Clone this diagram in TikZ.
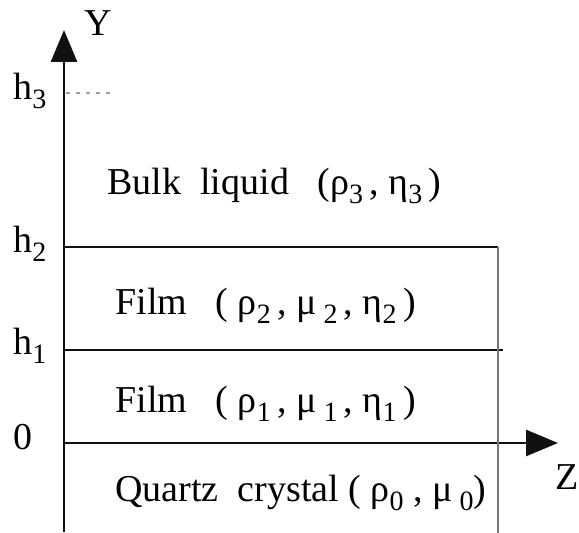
\documentclass[tikz,border=0pt]{standalone}
\usepackage{fontspec}
\setmainfont{Liberation Serif}
\usetikzlibrary{positioning,arrows.meta}
\definecolor{cK}{HTML}{111111}
\definecolor{cG}{HTML}{777777}
\newcommand\lsub[1]{\raisebox{-0.5ex}{\fontsize{14}{14}\selectfont#1}}

\begin{document}
\begin{tikzpicture}[x=0.5pt,y=-0.5pt,font=\fontsize{19}{22}\selectfont,
  axis/.style={line width=1.4pt,cK,-{Triangle[length=16pt,width=13pt]}},
  layer/.style={line width=1pt,cK},
  lbl/.style={anchor=base west,inner sep=0pt}]
\useasboundingbox (0,0) rectangle (579,533);
% --- axes ---
\coordinate (O)    at (64,443);
\coordinate (ybot) at (64,532);
\coordinate (ytip) at (64,30);
\coordinate (ztip) at (558,443);
\draw[axis] (ybot) -- (ytip);
\draw[axis] (O) -- (ztip);
\node[lbl] (ylab) at (84,36)  {Y};
\node[lbl] (zlab) at (555,490) {Z};
% --- interfaces ---
\coordinate (h2a) at (64,247);  \coordinate (h2b) at (498,247);
\coordinate (h1a) at (64,350);  \coordinate (h1b) at (503,350);
\coordinate (rbot) at (498,533);
\draw[layer] (h2a) -- (h2b);
\draw[layer] (h1a) -- (h1b);
\draw[line width=.6pt,cG] (h2b) -- (rbot);
\coordinate (h3a) at (66,93);  \coordinate (h3b) at (115,93);
\draw[cG!70,line width=.6pt,dash pattern=on 2pt off 3pt] (h3a) -- (h3b);
% --- heights ---
\node[lbl] (h3) at (13,100) {h\lsub{3}};
\node[lbl] (h2) at (13,253) {h\lsub{2}};
\node[lbl] (h1) at (13,355) {h\lsub{1}};
\node[lbl] (h0) at (13,450) {0};
% --- layers ---
\node[lbl] (bulk) at (107,195) {Bulk\ \ liquid\ \ \ (ρ\lsub{3}\,, η\lsub{3}\,)};
\node[lbl] (film2) at (115,315) {Film\ \ \ (\ ρ\lsub{2}\,, μ\lsub{\ 2}\,, η\lsub{2}\,)};
\node[lbl] (film1) at (115,413) {Film\ \ \ (\ ρ\lsub{1}\,, μ\lsub{\ 1}\,, η\lsub{1}\,)};
\node[lbl] (quartz) at (115,502) {Quartz\ \ crystal ( ρ\lsub{0} , μ\lsub{ 0})};
\end{tikzpicture}
\end{document}
